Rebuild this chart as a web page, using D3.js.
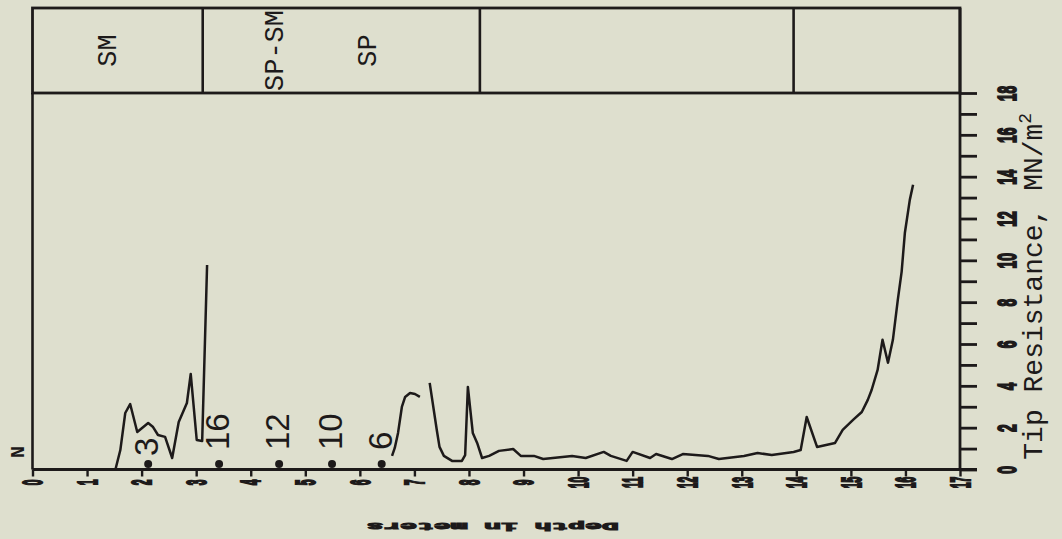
<!DOCTYPE html>
<html>
<head>
<meta charset="utf-8">
<script src="https://cdn.jsdelivr.net/npm/d3@7"></script>
<style>
  html, body { margin: 0; padding: 0; background: #dedfce; }
  svg { display: block; }
</style>
</head>
<body>
<svg id="chart" width="1062" height="539"></svg>
<script>
// Cone penetration log, page turned sideways: depth runs left to right,
// tip resistance runs upward, soil strata boxed along the top.

const depthTicks = [0, 1, 2, 3, 4, 5, 6, 7, 8, 9, 10, 11, 12, 13, 14, 15, 16, 17];
const tipTicks = [0, 1, 2, 3, 4, 5, 6, 7, 8, 9, 10, 11, 12, 13, 14, 15, 16, 17, 18];
const tipTickLabels = [0, 2, 4, 6, 8, 10, 12, 14, 16, 18];

// soil strata (depth limits) and their names
const layerLimits = [0, 3.12, 8.2, 13.95, 17];
const layerNames = ["SM", "SP-SM", "SP"];
const layerNameDepths = [1.37, 4.43, 6.13];

// standard penetration samples: depth and blow count N
const sampleDepths = [2.12, 3.42, 4.52, 5.49, 6.40];
const blowCounts = ["3", "16", "12", "10", "6"];

// tip resistance record, three continuous runs
const depthA = [1.52, 1.61, 1.70, 1.79, 1.92, 2.12, 2.21, 2.30, 2.43, 2.56, 2.68, 2.83, 2.90, 3.01, 3.11, 3.20];
const tipA   = [0.00, 0.93, 2.70, 3.13, 1.79, 2.22, 2.03, 1.65, 1.56, 0.55, 2.27, 3.18, 4.57, 1.41, 1.36, 9.78];

const depthB = [6.59, 6.64, 6.70, 6.77, 6.83, 6.92, 7.01, 7.10];
const tipB   = [0.65, 1.03, 1.75, 2.99, 3.47, 3.66, 3.61, 3.47];

const depthC = [7.28, 7.41, 7.46, 7.54, 7.69, 7.87, 7.93, 7.98, 8.07, 8.15, 8.24, 8.37, 8.55, 8.81,
                8.95, 9.19, 9.36, 9.89, 10.14, 10.47, 10.60, 10.89, 11.00, 11.32, 11.43, 11.72, 11.92,
                12.38, 12.58, 13.04, 13.29, 13.55, 13.95, 14.08, 14.19, 14.38, 14.71, 14.85, 15.04,
                15.20, 15.31, 15.38, 15.49, 15.58, 15.68, 15.77, 15.86, 15.93, 15.99, 16.08, 16.14];
const tipC   = [4.14, 1.89, 1.08, 0.65, 0.41, 0.41, 0.69, 3.95, 1.75, 1.27, 0.55, 0.65, 0.89, 0.98,
                0.65, 0.65, 0.50, 0.65, 0.55, 0.84, 0.65, 0.41, 0.84, 0.55, 0.74, 0.50, 0.74,
                0.65, 0.50, 0.65, 0.79, 0.69, 0.84, 0.93, 2.51, 1.08, 1.27, 1.89, 2.37,
                2.75, 3.33, 3.80, 4.76, 6.20, 5.10, 6.20, 8.11, 9.45, 11.32, 12.89, 13.61];

const ink = "#1d1a1a";
const mono = "'Liberation Mono', 'Courier New', monospace";
const sans = "'Liberation Sans', Arial, sans-serif";

const svg = d3.select("#chart");
svg.append("rect").attr("width", 1062).attr("height", 539).attr("fill", "#dedfce");

const x = d3.scaleLinear().domain([0, 17]).range([32.5, 960]);
const y = d3.scaleLinear().domain([0, 18]).range([469.5, 93]);
const boxTop = 8;

// strata box
const g = svg.append("g").attr("stroke", ink).attr("fill", "none");
g.append("rect")
  .attr("x", x(0)).attr("y", boxTop)
  .attr("width", x(17) - x(0)).attr("height", y(18) - boxTop)
  .attr("stroke-width", 2.8);
g.selectAll("line.divider")
  .data(layerLimits.slice(1, -1))
  .join("line")
  .attr("class", "divider")
  .attr("x1", d => x(d)).attr("x2", d => x(d))
  .attr("y1", boxTop).attr("y2", y(18))
  .attr("stroke-width", 2.6);

svg.selectAll("text.layer")
  .data(layerNames)
  .join("text")
  .attr("class", "layer")
  .attr("transform", (d, i) => `translate(${x(layerNameDepths[i]) + 9},${(boxTop + y(18)) / 2}) rotate(-90)`)
  .attr("text-anchor", "middle")
  .attr("font-family", mono)
  .attr("font-size", 27)
  .attr("fill", ink)
  .text(d => d);

// plot frame: left edge, zero line, resistance axis line
g.append("line").attr("x1", x(0)).attr("x2", x(0)).attr("y1", y(18)).attr("y2", y(0)).attr("stroke-width", 2.6);
g.append("line").attr("x1", x(0)).attr("x2", x(17) + 17).attr("y1", y(0)).attr("y2", y(0)).attr("stroke-width", 2.8);
g.append("line").attr("x1", x(17)).attr("x2", x(17)).attr("y1", boxTop).attr("y2", y(0)).attr("stroke-width", 2.8);

// resistance axis (right side)
const yAxis = svg.append("g")
  .attr("transform", `translate(${x(17)},0)`)
  .call(d3.axisRight(y).tickValues(tipTicks).tickSize(17)
    .tickFormat(d => tipTickLabels.includes(d) ? d : ""));
yAxis.select(".domain").remove();
yAxis.selectAll(".tick line").attr("stroke", ink).attr("stroke-width", 2.8);
yAxis.selectAll(".tick text")
  .attr("x", null).attr("dy", null)
  .attr("transform", "translate(47,0) scale(1,0.55) rotate(-90)")
  .attr("text-anchor", "middle")
  .attr("dominant-baseline", "central")
  .attr("font-family", sans)
  .attr("font-weight", "bold")
  .attr("font-size", 25)
  .attr("fill", ink)
  .attr("stroke", ink)
  .attr("stroke-width", 2);

// depth axis (bottom)
const xAxis = svg.append("g")
  .attr("transform", `translate(0,${y(0)})`)
  .call(d3.axisBottom(x).tickValues(depthTicks).tickSize(7).tickFormat(d => d));
xAxis.select(".domain").remove();
xAxis.selectAll(".tick line").attr("stroke", ink).attr("stroke-width", 2.4);
xAxis.selectAll(".tick text")
  .attr("y", null).attr("dy", null)
  .attr("transform", "translate(0,13) scale(1,0.38) rotate(-90)")
  .attr("text-anchor", "middle")
  .attr("dominant-baseline", "central")
  .attr("font-family", sans)
  .attr("font-weight", "bold")
  .attr("font-size", 27)
  .attr("fill", ink)
  .attr("stroke", ink)
  .attr("stroke-width", 2.5);

// axis titles
const tipTitle = svg.append("text")
  .attr("transform", `translate(1042,${(y(18) + y(0)) / 2 + 5}) rotate(-90)`)
  .attr("text-anchor", "middle")
  .attr("font-family", mono)
  .attr("font-size", 28)
  .attr("fill", ink);
tipTitle.append("tspan").text("Tip Resistance, MN/m");
tipTitle.append("tspan").attr("font-size", 18).attr("dy", -11).text("2");

svg.append("text")
  .attr("transform", `translate(${(x(6.07) + x(10.8)) / 2},${y(0) + 57}) scale(1,0.42) rotate(180)`)
  .attr("text-anchor", "middle")
  .attr("dominant-baseline", "central")
  .attr("font-family", mono)
  .attr("font-weight", "bold")
  .attr("font-size", 28)
  .attr("fill", ink)
  .attr("stroke", ink)
  .attr("stroke-width", 2.5)
  .text("Depth in meters");

// N marker at the left
svg.append("text")
  .attr("transform", `translate(24,452) rotate(-90)`)
  .attr("text-anchor", "middle")
  .attr("font-family", mono)
  .attr("font-weight", "bold")
  .attr("font-size", 20)
  .attr("fill", ink)
  .text("N");

// tip resistance curve
const line = d3.line().x(d => x(d[0])).y(d => y(d[1]));
const runs = [d3.zip(depthA, tipA), d3.zip(depthB, tipB), d3.zip(depthC, tipC)];
svg.append("g")
  .selectAll("path")
  .data(runs)
  .join("path")
  .attr("d", line)
  .attr("fill", "none")
  .attr("stroke", ink)
  .attr("stroke-width", 2.5)
  .attr("stroke-linejoin", "round");

// sample points and blow counts
svg.selectAll("circle.sample")
  .data(sampleDepths)
  .join("circle")
  .attr("class", "sample")
  .attr("cx", d => x(d))
  .attr("cy", y(0) - 5.5)
  .attr("r", 4)
  .attr("fill", ink);

svg.selectAll("text.blow")
  .data(blowCounts)
  .join("text")
  .attr("class", "blow")
  .attr("transform", (d, i) => `translate(${x(sampleDepths[i]) + 10},${i === 0 ? 456 : 450}) rotate(-90)`)
  .attr("text-anchor", "start")
  .attr("font-family", sans)
  .attr("font-size", 33)
  .attr("fill", ink)
  .text(d => d);
</script>
</body>
</html>
